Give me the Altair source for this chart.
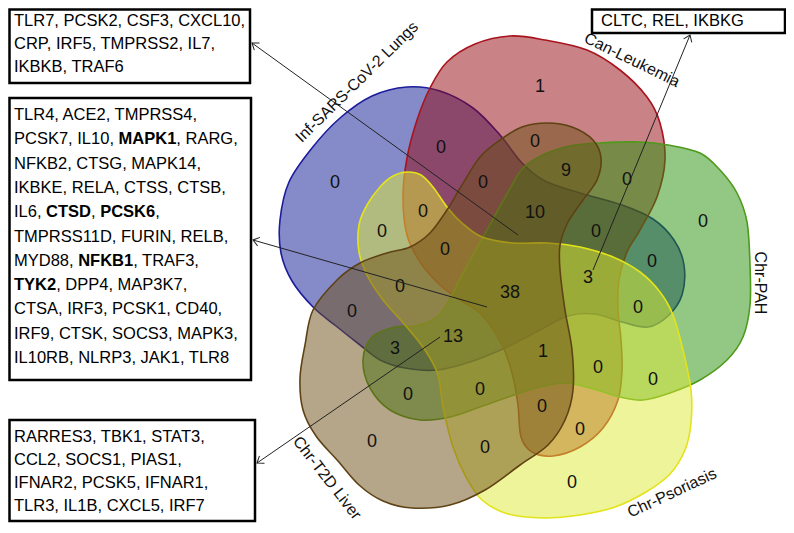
import math
import altair as alt
import pandas as pd

# ---------------- data ----------------
SETS = ["Inf-SARS-CoV-2 Lungs", "Can-Leukemia", "Chr-PAH", "Chr-Psoriasis", "Chr-T2D Liver"]

# outline control points of each set (page pixels)
BLUE_X = [407, 440, 473, 500, 522, 545, 580, 622, 653, 674, 684, 682, 668, 648, 622, 595, 568, 538, 505, 470, 437, 405, 380, 360, 336, 313, 292, 281, 280, 289, 312, 340, 372]
BLUE_Y = [87, 91, 108, 135, 163, 181, 193, 205, 219, 240, 265, 295, 316, 327, 322, 314, 316, 331, 348, 362, 370, 368, 360, 345, 326, 307, 281, 253, 220, 182, 148, 118, 96]

RED_X = [510, 545, 587, 620, 647, 660, 665, 657, 640, 627, 619, 618, 621, 622, 618, 603, 580, 553, 532, 521, 518, 513, 503, 482, 460, 440, 420, 407, 403, 407, 417, 430, 447, 475]
RED_Y = [36, 40, 50, 70, 97, 123, 160, 197, 230, 252, 280, 310, 340, 370, 400, 428, 447, 456, 452, 437, 405, 377, 347, 315, 300, 285, 262, 235, 197, 158, 120, 88, 62, 44]

GREEN_X = [600, 640, 668, 700, 720, 737, 747, 750, 750, 743, 727, 700, 670, 643, 620, 597, 567, 540, 520, 480, 450, 420, 390, 370, 363, 372, 395, 415, 437, 452, 462, 483, 507, 523, 545, 570]
GREEN_Y = [143, 142, 145, 153, 170, 193, 222, 265, 305, 337, 360, 380, 393, 400, 397, 390, 383, 387, 393, 407, 417, 420, 410, 388, 360, 337, 327, 326, 317, 295, 275, 237, 194, 168, 154, 146]

YELLOW_X = [407, 421, 433, 447, 462, 482, 513, 547, 580, 613, 640, 660, 673, 683, 691, 691, 685, 670, 646, 615, 580, 543, 508, 482, 466, 453, 443, 438, 425, 405, 383, 368, 359, 359, 367, 380, 393]
YELLOW_Y = [172, 175, 187, 207, 223, 237, 243, 243, 247, 257, 272, 292, 315, 350, 390, 423, 450, 474, 492, 507, 515, 518, 514, 500, 477, 447, 407, 375, 350, 325, 300, 277, 252, 225, 205, 187, 176]

BROWN_X = [313, 337, 360, 387, 410, 430, 447, 462, 480, 500, 522, 547, 572, 593, 601, 597, 583, 568, 560, 560, 565, 572, 573, 565, 548, 520, 485, 450, 412, 383, 359, 338, 316, 303, 300, 305]
BROWN_Y = [310, 280, 263, 253, 247, 233, 210, 185, 157, 140, 127, 123, 127, 140, 158, 180, 200, 222, 245, 270, 310, 350, 390, 420, 445, 465, 490, 505, 508, 501, 485, 461, 436, 410, 378, 345]

FILLS = ["#0b1893", "#93060b", "#25910a", "#dde935", "#6b4d15"]
STROKES = ["#1c1c9c", "#a8141e", "#4e9a1a", "#e3e31a", "#5e4214"]

# region counts
COUNTS = [1, 0, 0, 0, 9, 0, 0, 0, 10, 0, 0, 0, 0, 0, 3, 38, 0, 0, 13, 3, 1, 0, 0, 0, 0, 0, 0, 0, 0, 0, 0]
COUNT_X = [540, 335, 441, 535, 566, 627, 483, 423, 535, 382, 445, 596, 703, 652, 588, 510, 400, 352, 453, 395, 543, 638, 598, 653, 408, 480, 542, 580, 485, 372, 572]
COUNT_Y = [87, 183, 148, 142, 171, 180, 183, 212, 213, 232, 250, 232, 222, 262, 278, 293, 287, 312, 337, 349, 352, 308, 368, 380, 395, 390, 407, 430, 448, 442, 483]

# set names around the diagram
LABEL_X = [357, 632, 760, 672, 327]
LABEL_Y = [82, 60, 283, 493, 478]
LABEL_ANGLE = [-44.5, 26, 90, -25, 52]

# gene boxes (** marks bold genes)
BOX1 = ["TLR7, PCSK2, CSF3, CXCL10,", "CRP, IRF5, TMPRSS2, IL7,", "IKBKB, TRAF6"]
BOX2 = ["TLR4, ACE2, TMPRSS4,", "PCSK7, IL10, **MAPK1**, RARG,", "NFKB2, CTSG, MAPK14,",
        "IKBKE, RELA, CTSS, CTSB,", "IL6, **CTSD**, **PCSK6**,", "TMPRSS11D, FURIN, RELB,",
        "MYD88, **NFKB1**, TRAF3,", "**TYK2**, DPP4, MAP3K7,", "CTSA, IRF3, PCSK1, CD40,",
        "IRF9, CTSK, SOCS3, MAPK3,", "IL10RB, NLRP3, JAK1, TLR8"]
BOX3 = ["RARRES3, TBK1, STAT3,", "CCL2, SOCS1, PIAS1,", "IFNAR2, PCSK5, IFNAR1,", "TLR3, IL1B, CXCL5, IRF7"]
BOX4 = ["CLTC, REL, IKBKG"]

# ---------------- layout ----------------
BOX_RECT = [(9.5, 9.5, 250, 83), (9.5, 98, 251, 380), (9.5, 420, 255, 521), (592, 9.5, 785, 33)]
BOX_TEXT_X = [14, 14, 14, 601]
BOX_LINE_Y = [[21, 44, 67],
              [115 + 24.3 * k for k in range(11)],
              [437, 460, 483, 506],
              [21]]
ARROW_FROM = [(518, 235), (487, 307), (440, 337), (593, 270)]
ARROW_TO = [(252, 43), (253, 240), (257, 463), (690, 35)]

FONT = "Liberation Sans"
FS = 16.5

REG = {' ': 278, ',': 278, '-': 333}
BOLD = {' ': 278, ',': 278, '-': 333}
for ch, w in zip("ABCDEFGHIJKLMNOPQRSTUVWXYZ",
                 [667, 667, 722, 722, 667, 611, 778, 722, 278, 500, 667, 556, 833, 722, 778, 667, 778, 722, 667, 611, 722, 667, 944, 667, 667, 611]):
    REG[ch] = w
for ch, w in zip("ABCDEFGHIJKLMNOPQRSTUVWXYZ",
                 [722, 722, 722, 722, 667, 611, 778, 722, 278, 556, 722, 611, 833, 722, 778, 667, 778, 722, 667, 611, 722, 667, 944, 667, 667, 611]):
    BOLD[ch] = w
for d in "0123456789":
    REG[d] = 556
    BOLD[d] = 556


def seg_rows(lines, x0, ys):
    rows = []
    for line, y in zip(lines, ys):
        x = x0
        for k, part in enumerate(line.split("**")):
            if not part:
                continue
            bold = k % 2 == 1
            rows.append({"t": part, "x": x, "y": y, "bold": bold})
            table = BOLD if bold else REG
            x += sum(table.get(c, 556) for c in part) * FS / 1000.0
    return rows


# ---------------- chart ----------------
XS = alt.Scale(domain=[8, 786], nice=False, zero=False)
YS = alt.Scale(domain=[8, 525], nice=False, zero=False, reverse=True)


def X(f="x"):
    return alt.X(f + ":Q", scale=XS, axis=None)


def Y(f="y"):
    return alt.Y(f + ":Q", scale=YS, axis=None)


layers = []
outlines = [(BLUE_X, BLUE_Y), (RED_X, RED_Y), (GREEN_X, GREEN_Y), (YELLOW_X, YELLOW_Y), (BROWN_X, BROWN_Y)]
for (xs, ys), fc, sc, name in zip(outlines, FILLS, STROKES, SETS):
    df = pd.DataFrame({"x": xs, "y": ys, "i": range(len(xs)), "set": name})
    layers.append(
        alt.Chart(df).mark_line(interpolate="cardinal-closed", fill=fc, fillOpacity=0.5,
                                stroke=sc, strokeWidth=1.6, strokeOpacity=1)
        .encode(x=X(), y=Y(), order="i:Q")
    )

count_df = pd.DataFrame({"x": COUNT_X, "y": COUNT_Y, "t": [str(c) for c in COUNTS]})
layers.append(
    alt.Chart(count_df).mark_text(font=FONT, fontSize=18, color="#111111", baseline="middle")
    .encode(x=X(), y=Y(), text="t:N")
)

label_df = pd.DataFrame({"x": LABEL_X, "y": LABEL_Y, "t": SETS,
                         "a": [a % 360 for a in LABEL_ANGLE]})
layers.append(
    alt.Chart(label_df).mark_text(font=FONT, fontSize=16, color="#111111", baseline="middle")
    .encode(x=X(), y=Y(), text="t:N", angle=alt.Angle("a:Q", scale=None))
)

# arrows
arr_df = pd.DataFrame({"x": [p[0] for p in ARROW_FROM], "y": [p[1] for p in ARROW_FROM],
                       "x2": [p[0] for p in ARROW_TO], "y2": [p[1] for p in ARROW_TO]})
arr_df["ang"] = [math.degrees(math.atan2(b[0] - a[0], -(b[1] - a[1]))) % 360
                 for a, b in zip(ARROW_FROM, ARROW_TO)]
layers.append(
    alt.Chart(arr_df).mark_rule(color="#222222", strokeWidth=1)
    .encode(x=X(), y=Y(), x2="x2:Q", y2="y2:Q")
)
layers.append(
    alt.Chart(arr_df).mark_point(shape="M -0.55 0.75 L 0 0 L 0.55 0.75", filled=False,
                                 color="#222222", strokeWidth=1, size=260, opacity=1)
    .encode(x=X("x2"), y=Y("y2"), angle=alt.Angle("ang:Q", scale=None))
)

# boxes
box_df = pd.DataFrame({"x": [b[0] for b in BOX_RECT], "y": [b[1] for b in BOX_RECT],
                       "x2": [b[2] for b in BOX_RECT], "y2": [b[3] for b in BOX_RECT]})
layers.append(
    alt.Chart(box_df).mark_rect(fill="white", stroke="black", strokeWidth=2.5)
    .encode(x=X(), y=Y(), x2="x2:Q", y2="y2:Q")
)

rows = []
for lines, x0, ys in zip([BOX1, BOX2, BOX3, BOX4], BOX_TEXT_X, BOX_LINE_Y):
    rows += seg_rows(lines, x0, ys)
txt_df = pd.DataFrame(rows)
layers.append(
    alt.Chart(txt_df[~txt_df["bold"]]).mark_text(font=FONT, fontSize=FS, align="left",
                                                 baseline="middle", color="black")
    .encode(x=X(), y=Y(), text="t:N")
)
layers.append(
    alt.Chart(txt_df[txt_df["bold"]]).mark_text(font=FONT, fontSize=FS, fontWeight="bold",
                                                align="left", baseline="middle", color="black")
    .encode(x=X(), y=Y(), text="t:N")
)

chart = (
    alt.layer(*layers)
    .properties(width=778, height=517, padding=0,
                autosize=alt.AutoSizeParams(type="none"))
    .configure_view(stroke=None)
)

chart.save("out.html", embed_options={"renderer": "svg", "actions": False})
